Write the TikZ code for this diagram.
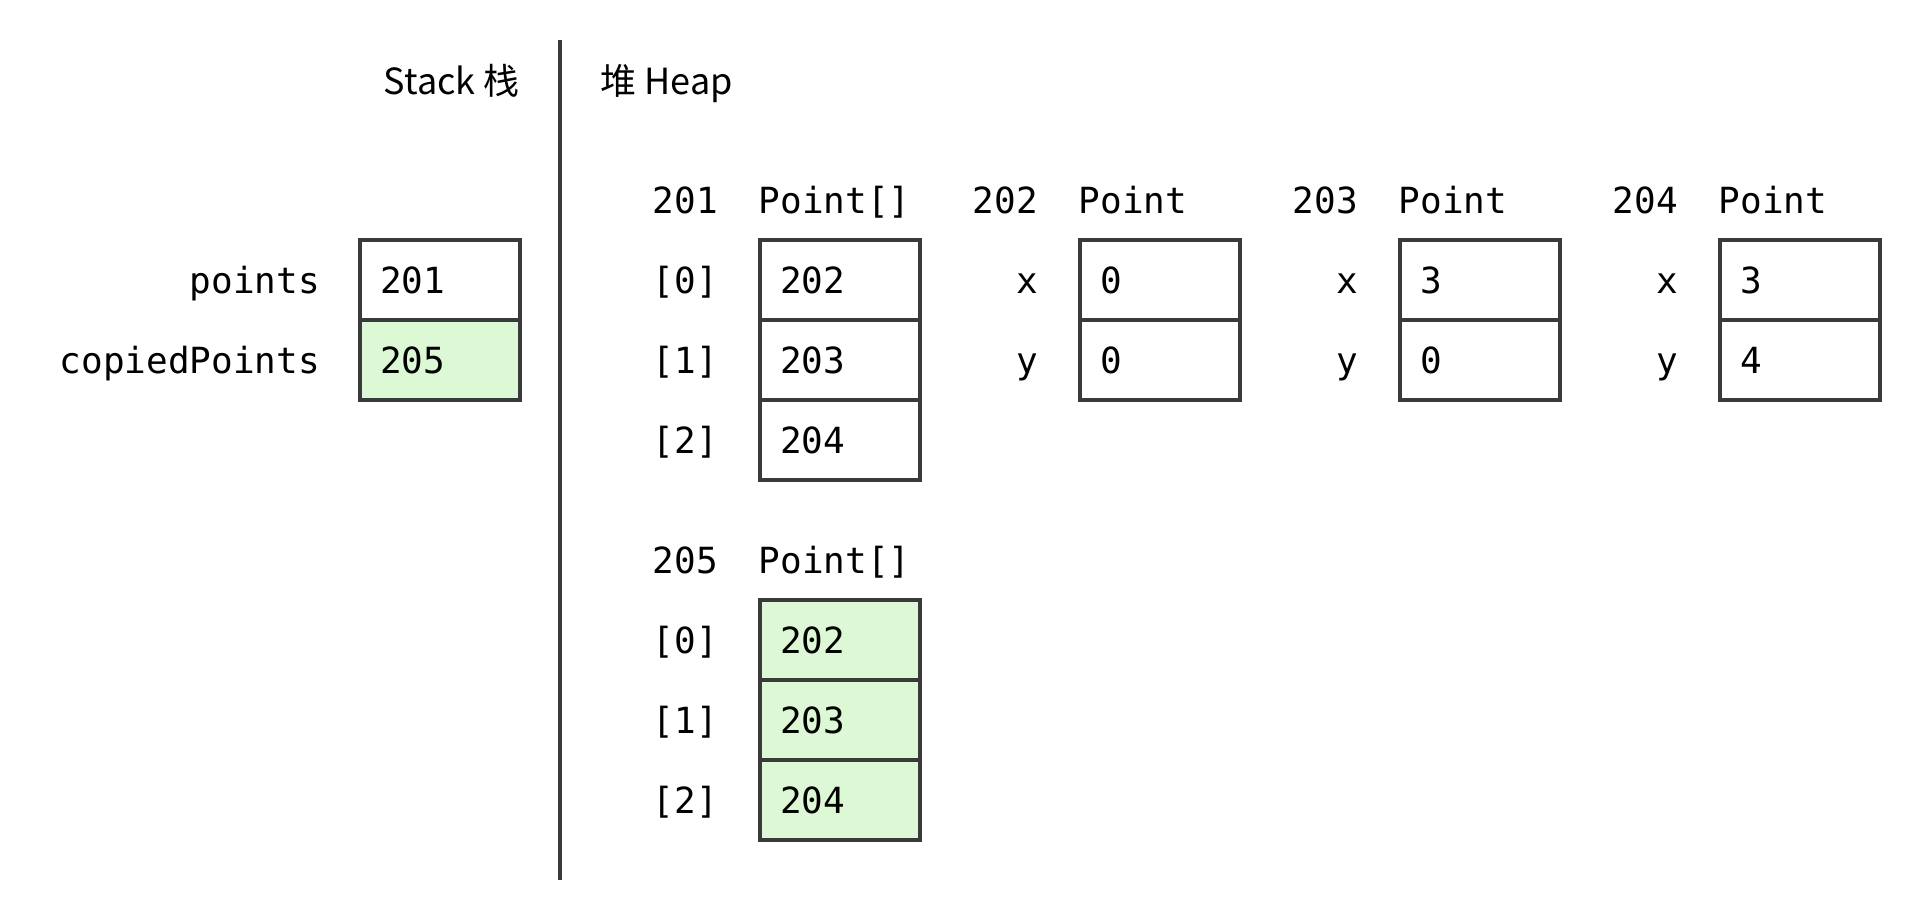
\documentclass[tikz,border=0pt]{standalone}
\usepackage{fontspec}
\setmonofont{DejaVu Sans Mono}
\newfontfamily\cjk{Noto Sans CJK SC}
\definecolor{boxline}{RGB}{58,58,58}
\definecolor{copyfill}{RGB}{221,248,212}
\begin{document}
\begin{tikzpicture}[x=0.5pt,y=-0.5pt,
  mono/.style={font=\ttfamily\fontsize{18pt}{22pt}\selectfont, text=black},
  cell/.style={mono, draw=boxline, line width=1.7pt, fill=white,
    minimum height=40pt, text width=60pt, inner xsep=10pt, inner ysep=0pt, align=left},
  copied/.style={cell, fill=copyfill},
  lbl/.style={mono, anchor=base east, inner sep=0pt},
  hdr/.style={mono, anchor=base west, inner sep=0pt},
  title/.style={font=\cjk\fontsize{18pt}{22pt}\selectfont, text=black, inner sep=0pt, anchor=base}
]
\useasboundingbox (0,0) rectangle (1920,920);

% divider
\coordinate (divtop) at (560,40);
\coordinate (divbot) at (560,880);
\draw[boxline, line width=1.7pt] (divtop) -- (divbot);

% titles
\node[title, anchor=base east] (tstack) at (520,95) {Stack 栈};
\node[title, anchor=base west] (theap) at (600,95) {堆 Heap};

% stack
\node[cell] (s1) at (440,280) {201};
\node[copied] (s2) at (440,360) {205};
\node[lbl] (ls1) at ([xshift=-19pt,yshift=-6.5pt]s1.west) {points};
\node[lbl] (ls2) at ([xshift=-19pt,yshift=-6.5pt]s2.west) {copiedPoints};

% array 201
\node[cell] (a1) at (840,280) {202};
\node[cell] (a2) at (840,360) {203};
\node[cell] (a3) at (840,440) {204};
\node[lbl] (la1) at ([xshift=-20pt,yshift=-6.5pt]a1.west) {[0]};
\node[lbl] (la2) at ([xshift=-20pt,yshift=-6.5pt]a2.west) {[1]};
\node[lbl] (la3) at ([xshift=-20pt,yshift=-6.5pt]a3.west) {[2]};
\node[lbl] (ha) at ([xshift=-20pt,yshift=12.5pt]a1.north west) {201};
\node[hdr] (ta) at ([yshift=12.5pt]a1.north west) {Point[]};

% point 202
\node[cell] (p1x) at (1160,280) {0};
\node[cell] (p1y) at (1160,360) {0};
\node[lbl] (lp1x) at ([xshift=-20pt,yshift=-6.5pt]p1x.west) {x};
\node[lbl] (lp1y) at ([xshift=-20pt,yshift=-6.5pt]p1y.west) {y};
\node[lbl] (hp1) at ([xshift=-20pt,yshift=12.5pt]p1x.north west) {202};
\node[hdr] (tp1) at ([yshift=12.5pt]p1x.north west) {Point};

% point 203
\node[cell] (p2x) at (1480,280) {3};
\node[cell] (p2y) at (1480,360) {0};
\node[lbl] (lp2x) at ([xshift=-20pt,yshift=-6.5pt]p2x.west) {x};
\node[lbl] (lp2y) at ([xshift=-20pt,yshift=-6.5pt]p2y.west) {y};
\node[lbl] (hp2) at ([xshift=-20pt,yshift=12.5pt]p2x.north west) {203};
\node[hdr] (tp2) at ([yshift=12.5pt]p2x.north west) {Point};

% point 204
\node[cell] (p3x) at (1800,280) {3};
\node[cell] (p3y) at (1800,360) {4};
\node[lbl] (lp3x) at ([xshift=-20pt,yshift=-6.5pt]p3x.west) {x};
\node[lbl] (lp3y) at ([xshift=-20pt,yshift=-6.5pt]p3y.west) {y};
\node[lbl] (hp3) at ([xshift=-20pt,yshift=12.5pt]p3x.north west) {204};
\node[hdr] (tp3) at ([yshift=12.5pt]p3x.north west) {Point};

% array 205
\node[copied] (b1) at (840,640) {202};
\node[copied] (b2) at (840,720) {203};
\node[copied] (b3) at (840,800) {204};
\node[lbl] (lb1) at ([xshift=-20pt,yshift=-6.5pt]b1.west) {[0]};
\node[lbl] (lb2) at ([xshift=-20pt,yshift=-6.5pt]b2.west) {[1]};
\node[lbl] (lb3) at ([xshift=-20pt,yshift=-6.5pt]b3.west) {[2]};
\node[lbl] (hb) at ([xshift=-20pt,yshift=12.5pt]b1.north west) {205};
\node[hdr] (tb) at ([yshift=12.5pt]b1.north west) {Point[]};
\end{tikzpicture}
\end{document}
